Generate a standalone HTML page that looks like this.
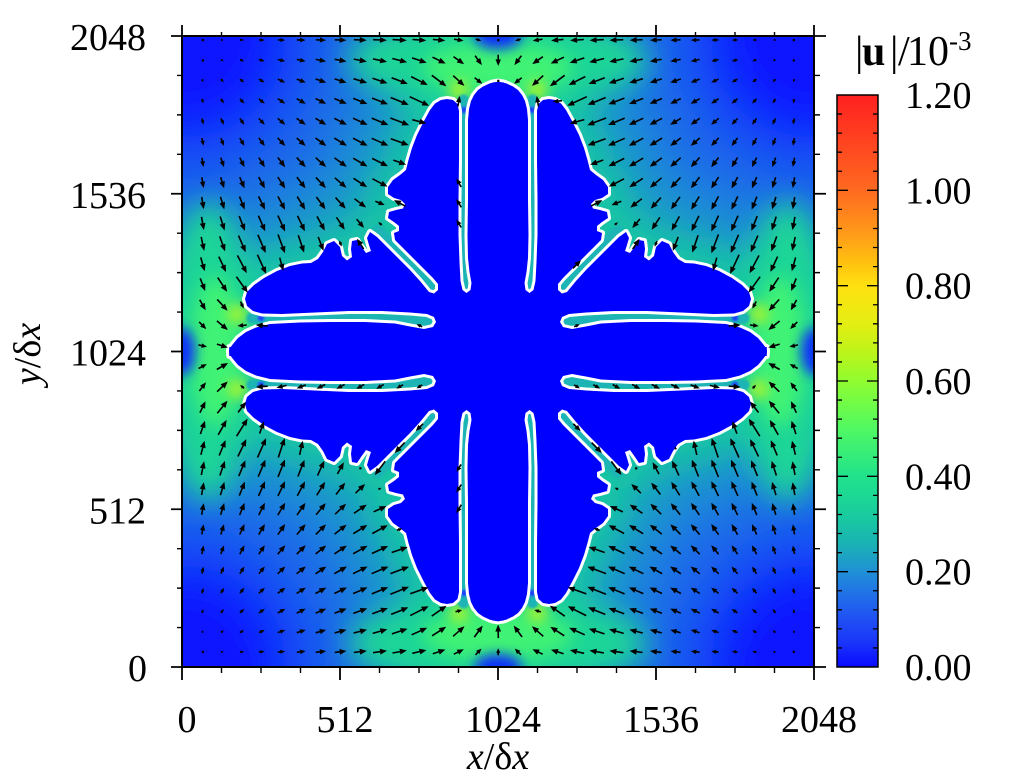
<!DOCTYPE html>
<html><head><meta charset="utf-8">
<style>
html,body{margin:0;padding:0;background:#fff;}
svg{display:block;}
text{font-family:"Liberation Serif","DejaVu Serif",serif;fill:#000;}
</style></head>
<body>
<svg id="s" width="1017" height="779" viewBox="0 0 1017 779" xmlns="http://www.w3.org/2000/svg">
<defs>
  <clipPath id="pc"><rect x="182" y="36" width="632" height="631"/></clipPath>
  <filter id="b35" filterUnits="userSpaceOnUse" x="-200" y="-200" width="1400" height="1200"><feGaussianBlur stdDeviation="32"/></filter>
  <filter id="b16" filterUnits="userSpaceOnUse" x="-200" y="-200" width="1400" height="1200"><feGaussianBlur stdDeviation="15"/></filter>
  <filter id="b9" filterUnits="userSpaceOnUse" x="-200" y="-200" width="1400" height="1200"><feGaussianBlur stdDeviation="9"/></filter>
  <filter id="b6" filterUnits="userSpaceOnUse" x="-200" y="-200" width="1400" height="1200"><feGaussianBlur stdDeviation="6"/></filter>
  <filter id="b1" filterUnits="userSpaceOnUse" x="-200" y="-200" width="1400" height="1200"><feGaussianBlur stdDeviation="1"/></filter>

  <linearGradient id="cb" x1="0" y1="1" x2="0" y2="0">
    <stop offset="0" stop-color="#0a0aff"/>
    <stop offset="0.0417" stop-color="#1a34fa"/>
    <stop offset="0.0833" stop-color="#2050f4"/>
    <stop offset="0.125" stop-color="#2070e8"/>
    <stop offset="0.1667" stop-color="#2090d6"/>
    <stop offset="0.2083" stop-color="#1aaeb8"/>
    <stop offset="0.25" stop-color="#18c4a4"/>
    <stop offset="0.2917" stop-color="#1cd696"/>
    <stop offset="0.3333" stop-color="#20e28c"/>
    <stop offset="0.375" stop-color="#38ee78"/>
    <stop offset="0.4167" stop-color="#50f862"/>
    <stop offset="0.4583" stop-color="#70fc48"/>
    <stop offset="0.5" stop-color="#90fc30"/>
    <stop offset="0.55" stop-color="#bcf41a"/>
    <stop offset="0.6" stop-color="#e4ee12"/>
    <stop offset="0.6667" stop-color="#ffe010"/>
    <stop offset="0.7083" stop-color="#ffc010"/>
    <stop offset="0.75" stop-color="#ffa018"/>
    <stop offset="0.8333" stop-color="#ff6a20"/>
    <stop offset="0.9167" stop-color="#ff4420"/>
    <stop offset="1" stop-color="#ff2020"/>
  </linearGradient>

  <path id="hq" d="M498,78 L484,82 470,88 458,95 444,96 432,103 421,126 411,149 405,172 391,186 385,205 384,226 370,230 350,243 322,256 298,262 273,270 255,282 243,298 244,311 237,322 230,336 226,351.5 L498,351.5 Z"/>
  <g id="hull4">
    <use href="#hq"/>
    <use href="#hq" transform="matrix(-1 0 0 1 996 0)"/>
    <use href="#hq" transform="matrix(1 0 0 -1 0 703)"/>
    <use href="#hq" transform="matrix(-1 0 0 -1 996 703)"/>
  </g>

  <path id="dq" d="M504,82.6 L498,81.7 490,83.3 483,86.5 478,90 474,95 471,101 469,109 468,120 468,160 468,200 467.5,235 468,258 469.5,272 471.5,283 470.5,290 466.5,293 462.5,290 460.5,281 459.5,262 458.5,235 458.5,200 459,160 459,125 459,111 457.5,104 453,100 447,99 441,100 435,103.5 430,110 424,121 417,135 412,148 408.5,160 406,170 400,175 393,180 388,187 388,194 394,198 401,200 405,204 403,208.5 396,210 389,212 388,218 394,222 399,226 399,231 394,233 395,240 405,250 415,260 425,270 433,278 438,284 438,290 434,293.5 429,292 420,281 410,270 400,260 390,250 382,242 377,237 370,232 367,238 369,245 371,251 366,253 361,246 357,240 352,241 351,249 352,257 347,260.5 342,256 340,247 334,241 327,244 323,252 318,259 311,263 302,263.5 290,266 277,271 264,278 254,285 247,292 245,299 247,306 253,311 262,313.5 282,314 315,312.5 349,311 382,311 410,312.5 427,314 434,317 436,322 433,327 424,329 410,326.5 395,323.5 365,322 330,322 300,322.5 270,324 256,327.5 246,332 238,338 233,344 230,348 229,351.5 229.3,356 504,356 Z"/>
  <g id="den4">
    <use href="#dq"/>
    <use href="#dq" transform="matrix(-1 0 0 1 996 0)"/>
    <use href="#dq" transform="matrix(1 0 0 -1 0 703)"/>
    <use href="#dq" transform="matrix(-1 0 0 -1 996 703)"/>
  </g>

  <g id="chq">
    <path d="M463.5,100 L464,291"/>
    <path d="M378,230.5 L435,287.5"/>
    <path d="M252,318 L434,321"/>
  </g>
  <g id="ch4">
    <use href="#chq"/>
    <use href="#chq" transform="matrix(-1 0 0 1 996 0)"/>
    <use href="#chq" transform="matrix(1 0 0 -1 0 703)"/>
    <use href="#chq" transform="matrix(-1 0 0 -1 996 703)"/>
  </g>
  <g id="chdq">
    <circle cx="464" cy="110" r="3.5"/>
    <circle cx="261" cy="318" r="3.5"/>
  </g>
</defs>

<g clip-path="url(#pc)">
  <!-- broad field -->
  <g filter="url(#b35)">
    <rect x="80" y="-60" width="840" height="830" fill="#1f6ae8"/>
    <circle cx="182" cy="36" r="125" fill="#0a16ff"/>
    <circle cx="814" cy="36" r="125" fill="#0a16ff"/>
    <circle cx="182" cy="667" r="125" fill="#0a16ff"/>
    <circle cx="814" cy="667" r="125" fill="#0a16ff"/>
    <use href="#hull4" fill="#1ca8bc" stroke="#1ca8bc" stroke-width="100" stroke-linejoin="round"/>
  </g>
  <!-- near halo + tip zones -->
  <g filter="url(#b16)">
    <use href="#hull4" fill="#18c4a4" stroke="#18c4a4" stroke-width="34" stroke-linejoin="round"/>
    <ellipse cx="498" cy="60" rx="150" ry="48" fill="#1cd696"/>
    <ellipse cx="498" cy="643" rx="150" ry="48" fill="#1cd696"/>
    <ellipse cx="208" cy="351.5" rx="48" ry="150" fill="#1cd696"/>
    <ellipse cx="788" cy="351.5" rx="48" ry="150" fill="#1cd696"/>
  </g>
  <g filter="url(#b9)">
    <ellipse cx="498" cy="68" rx="75" ry="26" fill="#40f274"/>
    <ellipse cx="498" cy="635" rx="75" ry="26" fill="#40f274"/>
    <ellipse cx="216" cy="351.5" rx="26" ry="75" fill="#40f274"/>
    <ellipse cx="780" cy="351.5" rx="26" ry="75" fill="#40f274"/>
  </g>
  <g filter="url(#b6)">
    <circle cx="459" cy="90" r="10" fill="#a0f430"/>
    <circle cx="537" cy="90" r="10" fill="#a0f430"/>
    <circle cx="459" cy="613" r="10" fill="#a0f430"/>
    <circle cx="537" cy="613" r="10" fill="#a0f430"/>
    <circle cx="237" cy="314" r="10" fill="#a0f430"/>
    <circle cx="237" cy="389" r="10" fill="#a0f430"/>
    <circle cx="759" cy="314" r="10" fill="#a0f430"/>
    <circle cx="759" cy="389" r="10" fill="#a0f430"/>
    <ellipse cx="498" cy="36" rx="24" ry="13" fill="#1030f8"/>
    <ellipse cx="498" cy="667" rx="24" ry="13" fill="#1030f8"/>
    <ellipse cx="182" cy="351.5" rx="13" ry="24" fill="#1030f8"/>
    <ellipse cx="814" cy="351.5" rx="13" ry="24" fill="#1030f8"/>
  </g>
  <!-- channels -->
  <g filter="url(#b1)">
    <use href="#ch4" fill="none" stroke="#1cb4b4" stroke-width="11" stroke-linecap="round"/>
    <use href="#chdq" fill="#1a40f8"/>
    <use href="#chdq" fill="#1a40f8" transform="matrix(-1 0 0 1 996 0)"/>
    <use href="#chdq" fill="#1a40f8" transform="matrix(1 0 0 -1 0 703)"/>
    <use href="#chdq" fill="#1a40f8" transform="matrix(-1 0 0 -1 996 703)"/>
  </g>
  <!-- dendrite -->
  <use href="#den4" fill="#ffffff" stroke="#ffffff" stroke-width="6" stroke-linejoin="round"/>
  <use href="#den4" fill="#0000ff"/>
  <!-- arrows -->
  <g id="arr"></g>
</g>

<!-- frame -->
<rect x="182" y="36" width="632" height="631" fill="none" stroke="#000" stroke-width="2"/>
<path fill="none" stroke="#000" stroke-width="1.8" d="M182,667V680 M340,667V680 M498,667V680 M656,667V680 M814,667V680 M182,25V36 M340,25V36 M498,25V36 M656,25V36 M814,25V36 M171,36H182 M171,193.75H182 M171,351.5H182 M171,509.25H182 M171,667H182 M814,36H826 M814,193.75H826 M814,351.5H826 M814,509.25H826 M814,667H826"/>
<path fill="none" stroke="#000" stroke-width="1.4" d="M221.5,667V673 M261,667V673 M300.5,667V673 M379.5,667V673 M419,667V673 M458.5,667V673 M537.5,667V673 M577,667V673 M616.5,667V673 M695.5,667V673 M735,667V673 M774.5,667V673 M221.5,32V36 M261,32V36 M300.5,32V36 M379.5,32V36 M419,32V36 M458.5,32V36 M537.5,32V36 M577,32V36 M616.5,32V36 M695.5,32V36 M735,32V36 M774.5,32V36 M177,627.56H182 M177,588.13H182 M177,548.69H182 M177,469.81H182 M177,430.38H182 M177,390.94H182 M177,312.06H182 M177,272.63H182 M177,233.19H182 M177,154.31H182 M177,114.88H182 M177,75.44H182 M814,627.56H820 M814,588.13H820 M814,548.69H820 M814,469.81H820 M814,430.38H820 M814,390.94H820 M814,312.06H820 M814,272.63H820 M814,233.19H820 M814,154.31H820 M814,114.88H820 M814,75.44H820"/>

<!-- axis labels -->
<g font-size="38" text-anchor="end">
  <text x="146" y="50">2048</text>
  <text x="146" y="207.75">1536</text>
  <text x="146" y="365.5">1024</text>
  <text x="146" y="523.25">512</text>
  <text x="147" y="681">0</text>
</g>
<g font-size="38" text-anchor="middle">
  <text x="187" y="732">0</text>
  <text x="345" y="732">512</text>
  <text x="503" y="732">1024</text>
  <text x="661" y="732">1536</text>
  <text x="819" y="732">2048</text>
</g>
<text x="498" y="769" font-size="38" text-anchor="middle"><tspan font-style="italic">x</tspan>/δ<tspan font-style="italic">x</tspan></text>
<text transform="translate(40,354) rotate(-90)" font-size="38" text-anchor="middle"><tspan font-style="italic">y</tspan>/δ<tspan font-style="italic">x</tspan></text>

<!-- colorbar -->
<rect x="837" y="95" width="41" height="572" fill="url(#cb)" stroke="#000" stroke-width="1.5"/>
<path fill="none" stroke="#000" stroke-width="1.3" d="M837,647.93h5 M837,628.87h5 M837,609.8h5 M837,590.73h5 M837,571.67h11 M837,552.6h5 M837,533.53h5 M837,514.47h5 M837,495.4h5 M837,476.33h11 M837,457.27h5 M837,438.2h5 M837,419.13h5 M837,400.07h5 M837,381h11 M837,361.93h5 M837,342.87h5 M837,323.8h5 M837,304.73h5 M837,285.67h11 M837,266.6h5 M837,247.53h5 M837,228.47h5 M837,209.4h5 M837,190.33h11 M837,171.27h5 M837,152.2h5 M837,133.13h5 M837,114.07h5 M878,647.93h-5 M878,628.87h-5 M878,609.8h-5 M878,590.73h-5 M878,571.67h-11 M878,552.6h-5 M878,533.53h-5 M878,514.47h-5 M878,495.4h-5 M878,476.33h-11 M878,457.27h-5 M878,438.2h-5 M878,419.13h-5 M878,400.07h-5 M878,381h-11 M878,361.93h-5 M878,342.87h-5 M878,323.8h-5 M878,304.73h-5 M878,285.67h-11 M878,266.6h-5 M878,247.53h-5 M878,228.47h-5 M878,209.4h-5 M878,190.33h-11 M878,171.27h-5 M878,152.2h-5 M878,133.13h-5 M878,114.07h-5"/>
<g font-size="38">
  <text x="905" y="108">1.20</text>
  <text x="905" y="203.3">1.00</text>
  <text x="905" y="298.7">0.80</text>
  <text x="905" y="394">0.60</text>
  <text x="905" y="489.3">0.40</text>
  <text x="905" y="584.7">0.20</text>
  <text x="905" y="680">0.00</text>
</g>
<text y="65" font-size="42"><tspan x="855">|</tspan><tspan x="862" font-weight="bold">u</tspan><tspan x="890">|</tspan><tspan x="898">/</tspan><tspan x="907">10</tspan><tspan x="949" y="50" font-size="27">-3</tspan></text>
</svg>
<script>
(function(){
var NS='http://www.w3.org/2000/svg';
function P(id){var d=document.getElementById(id).getAttribute('d');var a=d.replace(/[MLZmlz]/g,' ').trim().split(/[\s,]+/).map(Number);var r=[];for(var i=0;i+1<a.length;i+=2)r.push([a[i],a[i+1]]);return r;}
var D=P('dq'),H=P('hq');H.pop();
function inP(Q,x,y){var c=false;for(var i=0,j=Q.length-1;i<Q.length;j=i++){var xi=Q[i][0],yi=Q[i][1],xj=Q[j][0],yj=Q[j][1];if(((yi>y)!==(yj>y))&&(x<(xj-xi)*(y-yi)/(yj-yi)+xi))c=!c;}return c;}
function inD(x,y){var fx=x>498?996-x:x,fy=y>351.5?703-y:y;return inP(D,fx,fy);}
var S=[];
for(var i=0;i<H.length-1;i++){var a=H[i],b=H[i+1],l=Math.hypot(b[0]-a[0],b[1]-a[1]),n=Math.max(1,Math.round(l/4));for(var k=0;k<n;k++){var t=k/n;S.push([a[0]+(b[0]-a[0])*t,a[1]+(b[1]-a[1])*t]);}}
S.push(H[H.length-1]);
var A=[];
S.forEach(function(p){[[p[0],p[1]],[996-p[0],p[1]],[p[0],703-p[1]],[996-p[0],703-p[1]]].forEach(function(q){[q[0],364-q[0],1628-q[0]].forEach(function(x){[q[1],72-q[1],1334-q[1]].forEach(function(y){A.push(x,y);});});});});
var N=S.length*4, kb=Math.PI*N/(632*631);
var V=[],M=[];
for(var i=0;i<31;i++)for(var j=0;j<31;j++){
  var x=202.7+19.7*i,y=40+20.39*j;
  if(inD(x,y))continue;
  var ux=kb*(x-498),uy=kb*(y-351.5);
  for(var k=0;k<A.length;k+=2){var dx=x-A[k],dy=y-A[k+1],r2=dx*dx+dy*dy+64;ux-=dx/r2;uy-=dy/r2;}
  var m=Math.hypot(ux,uy);V.push([x,y,ux,uy,m]);M.push(m);
}
M.sort(function(a,b){return a-b;});
var med=M[Math.floor(M.length/2)]||1;
var ls='',hs='';
V.forEach(function(v){
  var m=v[4];if(m<1e-12)return;
  var L=Math.min(22,13*m/med);var ex=v[2]/m,ey=v[3]/m;
  if(L<2.5){hs+='M'+(v[0]-1).toFixed(1)+','+(v[1]-1).toFixed(1)+'h2.2v2.2h-2.2Z';return;}
  var tx=v[0]-ex*L/2,ty=v[1]-ey*L/2,hx=v[0]+ex*L/2,hy=v[1]+ey*L/2;
  var h=Math.min(7,0.45*L+1.5),w=h*0.42;
  var bx=hx-ex*h,by=hy-ey*h;
  ls+='M'+tx.toFixed(1)+','+ty.toFixed(1)+'L'+(bx+ex).toFixed(1)+','+(by+ey).toFixed(1);
  hs+='M'+hx.toFixed(1)+','+hy.toFixed(1)+'L'+(bx-ey*w).toFixed(1)+','+(by+ex*w).toFixed(1)+'L'+(bx+ey*w).toFixed(1)+','+(by-ex*w).toFixed(1)+'Z';
});
var g=document.getElementById('arr');
var p1=document.createElementNS(NS,'path');p1.setAttribute('d',ls);p1.setAttribute('stroke','#000');p1.setAttribute('stroke-width','1.6');p1.setAttribute('fill','none');g.appendChild(p1);
var p2=document.createElementNS(NS,'path');p2.setAttribute('d',hs);p2.setAttribute('fill','#000');g.appendChild(p2);
})();
</script>
</body></html>
